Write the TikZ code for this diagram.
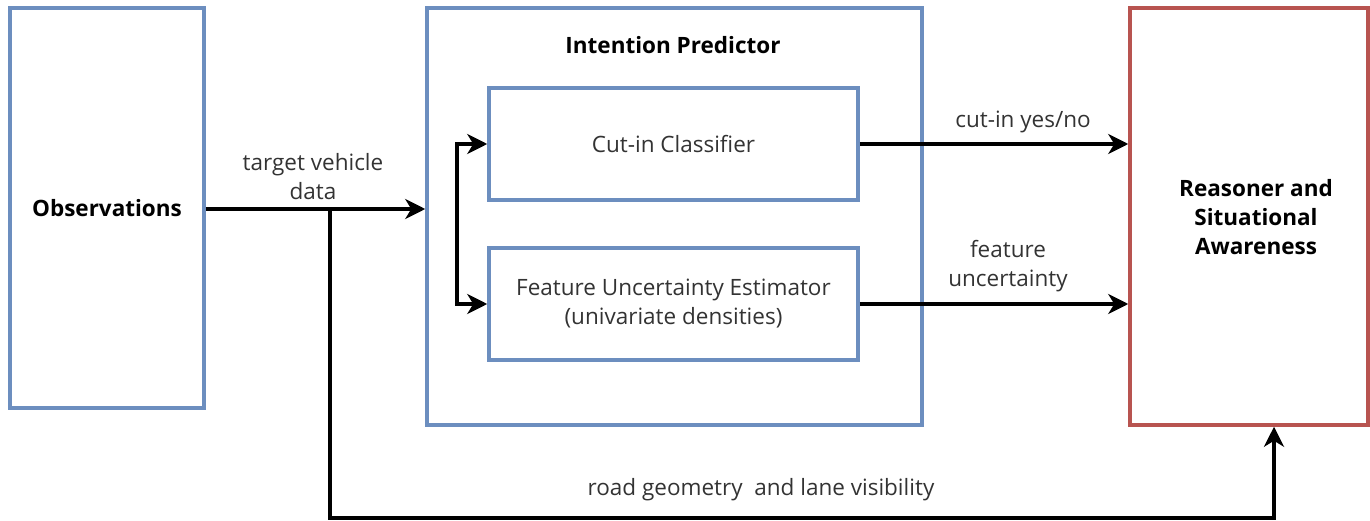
\documentclass[tikz,border=0pt]{standalone}
\usepackage{fontspec}
\setmainfont{Open Sans}
\usetikzlibrary{arrows.meta,positioning}
\definecolor{boxblue}{HTML}{6C8EBF}
\definecolor{boxred}{HTML}{B85450}
\definecolor{labelgray}{HTML}{333333}
\tikzset{
  blk/.style={draw=boxblue, line width=3.5pt, fill=white, inner sep=0pt},
  redblk/.style={draw=boxred, line width=3.5pt, fill=white, inner sep=0pt},
  plain/.style={font=\fontsize{22.5}{29}\selectfont, text=labelgray, align=center},
  heading/.style={font=\fontsize{22.5}{29}\selectfont\bfseries, text=black, align=center},
  conn/.style={line width=3.5pt, draw=black,
    -{Stealth[length=20pt,width=20pt,inset=6pt]}},
}
\begin{document}
\begin{tikzpicture}[x=1pt,y=-1pt]
\useasboundingbox (0,0) rectangle (1370,521);

% boxes
\node[blk, minimum width=194pt, minimum height=400pt] (obs) at (107,208) {};
\node[heading] at (obs.center) {Observations};

\node[blk, minimum width=495pt, minimum height=417pt] (ip) at (674.5,216.5) {};
\node[heading] (iptitle) at (673,45) {Intention Predictor};

\node[blk, minimum width=369pt, minimum height=112pt] (cut) at (673.5,144) {};
\node[plain] at (cut.center) {Cut-in Classifier};

\node[blk, minimum width=369pt, minimum height=112pt] (feat) at (673.5,304) {};
\node[plain] at (feat.center) {Feature Uncertainty Estimator\\(univariate densities)};

\node[redblk, minimum width=238pt, minimum height=417pt] (rsn) at (1249,216.5) {};
\node[heading] at (1256,217) {Reasoner and\\Situational\\Awareness};

% connectors
\coordinate (split) at (330,209);
\coordinate (low) at (330,518);
\draw[conn] (obs.east |- split) -- (ip.west |- split);
\node[plain] at (313,177) {target vehicle\\data};

\draw[conn] (split) -- (low) -| (rsn.south -| 1274,0);
\node[plain] at (761,490) {road geometry\ \ and lane visibility};

\coordinate (brk) at (457,144);
\draw[line width=3.5pt, {Stealth[length=20pt,width=20pt,inset=6pt]}-{Stealth[length=20pt,width=20pt,inset=6pt]}]
  (cut.west) -- (brk) |- (feat.west);

\draw[conn] (cut.east) -- (rsn.west |- cut.east);
\node[plain] at (1023,122) {cut-in yes/no};

\draw[conn] (feat.east) -- (rsn.west |- feat.east);
\node[plain] at (1008,266) {feature\\uncertainty};
\end{tikzpicture}
\end{document}
